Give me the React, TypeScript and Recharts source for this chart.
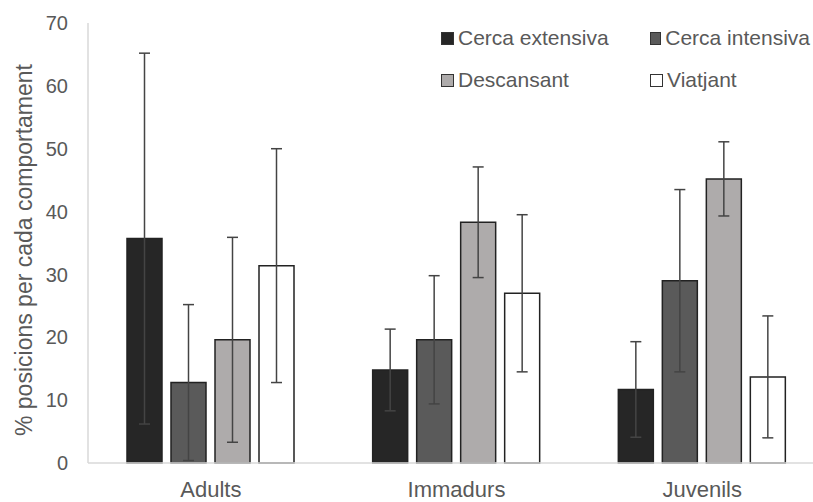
import React from "react";
import { Bar, BarChart, ErrorBar, Label, XAxis, YAxis } from "recharts";

const categories = ["Adults", "Immadurs", "Juvenils"];
const cercaExtensiva = [35.7, 14.8, 11.7];
const cercaExtensivaErr = [29.5, 6.5, 7.6];
const cercaIntensiva = [12.8, 19.6, 29.0];
const cercaIntensivaErr = [12.4, 10.2, 14.5];
const descansant = [19.6, 38.3, 45.2];
const descansantErr = [16.3, 8.8, 5.9];
const viatjant = [31.4, 27.0, 13.7];
const viatjantErr = [18.6, 12.5, 9.7];
const yTicks = [0, 10, 20, 30, 40, 50, 60, 70];

const data = categories.map((name, i) => ({
  name,
  ce: cercaExtensiva[i],
  ceErr: cercaExtensivaErr[i],
  ci: cercaIntensiva[i],
  ciErr: cercaIntensivaErr[i],
  d: descansant[i],
  dErr: descansantErr[i],
  v: viatjant[i],
  vErr: viatjantErr[i],
}));

const FONT = '"Liberation Sans", Arial, sans-serif';
const TEXT = "#595959";

const series = [
  { key: "ce", name: "Cerca extensiva", fill: "#262626" },
  { key: "ci", name: "Cerca intensiva", fill: "#5a5a5a" },
  { key: "d", name: "Descansant", fill: "#aeabab" },
  { key: "v", name: "Viatjant", fill: "#ffffff" },
];

function LegendBox() {
  return (
    <div
      style={{
        position: "absolute",
        left: 441,
        top: 26,
        display: "grid",
        gridTemplateColumns: "209px 160px",
        rowGap: 18,
        fontFamily: FONT,
        fontSize: 21,
        color: TEXT,
      }}
    >
      {series.map((s) => (
        <div key={s.key} style={{ display: "flex", alignItems: "center", height: 24, whiteSpace: "nowrap" }}>
          <span
            style={{
              display: "inline-block",
              width: 11,
              height: 11,
              background: s.fill,
              border: "1px solid #333",
              marginRight: 4,
            }}
          />
          {s.name}
        </div>
      ))}
    </div>
  );
}

function YLabel() {
  return (
    <text
      x={24}
      y={250}
      transform="rotate(-90 24 250)"
      textAnchor="middle"
      dominantBaseline="central"
      fill={TEXT}
      fontSize={23}
      fontFamily={FONT}
    >
      % posicions per cada comportament
    </text>
  );
}

export default function App() {
  return (
    <div
      style={{
        position: "absolute",
        left: 0,
        top: 0,
        width: 813,
        height: 502,
        overflow: "hidden",
        background: "#fff",
      }}
    >
      <BarChart
        width={831}
        height={502}
        data={data}
        margin={{ top: 23, right: 6, bottom: 0, left: 0 }}
        barSize={35}
        barGap={9}
      >
        <XAxis
          dataKey="name"
          height={39}
          axisLine={{ stroke: "#d9d9d9", strokeWidth: 1.5 }}
          tickLine={false}
          tickSize={0}
          tickMargin={18}
          tick={{ fontSize: 22, fill: TEXT, fontFamily: FONT }}
        />
        <YAxis
          width={88}
          domain={[0, 70]}
          ticks={yTicks}
          interval={0}
          axisLine={{ stroke: "#d9d9d9", strokeWidth: 1.5 }}
          tickLine={false}
          tickSize={0}
          tickMargin={20}
          tick={{ fontSize: 20, fill: TEXT, fontFamily: FONT }}
        >
          <Label content={<YLabel />} />
        </YAxis>
        {series.map((s) => (
          <Bar
            key={s.key}
            dataKey={s.key}
            name={s.name}
            fill={s.fill}
            stroke="#222"
            strokeWidth={1.5}
            isAnimationActive={false}
          >
            <ErrorBar dataKey={`${s.key}Err`} width={5.5} stroke="#444" strokeWidth={1.5} />
          </Bar>
        ))}
      </BarChart>
      <LegendBox />
    </div>
  );
}
